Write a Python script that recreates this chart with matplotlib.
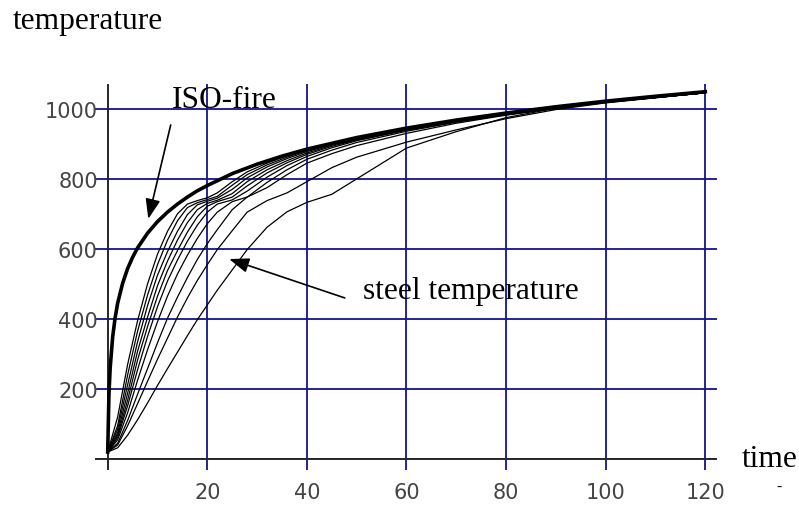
import matplotlib.pyplot as plt

# ISO-fire curve (gas temperature)
time_iso = [0, 0.25, 0.5, 1, 1.5, 2, 3, 4, 5, 6, 8, 10, 12, 14, 16, 18, 20,
            25, 30, 35, 40, 50, 60, 70, 80, 90, 100, 110, 120]
temp_iso = [20, 185, 261, 349, 404, 445, 502, 544, 576, 603, 645, 678, 705,
            728, 748, 766, 781, 815, 842, 865, 885, 918, 945, 968, 988, 1006,
            1022, 1036, 1049]

# steel temperatures, fastest to slowest
time_steel = [0, 2, 4, 6, 8, 10, 12, 14, 16, 18, 20, 22, 25, 28, 32, 36, 40,
              45, 50, 60, 70, 80, 90, 100, 120]
steel_1 = [20, 120, 270, 395, 500, 585, 650, 700, 728, 738, 746, 760, 792,
           820, 845, 866, 883, 900, 916, 943, 966, 986, 1004, 1020, 1047]
steel_2 = [20, 95, 240, 365, 468, 555, 625, 680, 718, 732, 741, 750, 782,
           812, 840, 862, 881, 899, 915, 942, 965, 985, 1003, 1019, 1046]
steel_3 = [20, 85, 212, 335, 438, 525, 592, 650, 698, 726, 736, 745, 770,
           803, 834, 858, 878, 898, 914, 941, 965, 985, 1003, 1019, 1046]
steel_4 = [20, 75, 188, 308, 405, 495, 565, 625, 675, 712, 730, 739, 758,
           792, 826, 852, 874, 896, 913, 941, 964, 985, 1003, 1019, 1046]
steel_5 = [20, 68, 168, 283, 378, 465, 538, 595, 648, 692, 722, 735, 748,
           780, 817, 846, 870, 893, 911, 940, 964, 984, 1003, 1019, 1046]
steel_6 = [20, 62, 152, 255, 350, 435, 508, 568, 622, 668, 705, 728, 740,
           765, 805, 838, 864, 889, 909, 939, 963, 984, 1002, 1019, 1046]
steel_7 = [20, 55, 132, 225, 312, 392, 465, 528, 582, 630, 672, 705, 735,
           748, 790, 826, 856, 882, 904, 936, 962, 983, 1002, 1019, 1046]
steel_8 = [20, 45, 110, 185, 258, 332, 402, 462, 518, 570, 615, 655, 712,
           748, 775, 812, 845, 872, 895, 930, 959, 982, 1001, 1018, 1046]
steel_9 = [20, 40, 95, 158, 222, 285, 345, 405, 460, 510, 555, 598, 652,
           705, 738, 760, 792, 832, 862, 905, 940, 972, 998, 1017, 1046]
steel_10 = [20, 32, 68, 112, 160, 210, 258, 305, 352, 398, 440, 482, 540,
            598, 662, 706, 733, 756, 800, 888, 935, 975, 1002, 1019, 1046]
steel_curves = [steel_1, steel_2, steel_3, steel_4, steel_5,
                steel_6, steel_7, steel_8, steel_9, steel_10]

x_ticks = [20, 40, 60, 80, 100, 120]
y_ticks = [200, 400, 600, 800, 1000]

serif = 'Liberation Serif'
grid_blue = '#14148c'

fig = plt.figure(figsize=(7.99, 5.06), dpi=100)
ax = fig.add_axes([95 / 799, 35 / 506, 622 / 799, 386 / 506])
ax.set_xlim(-2.55, 122.35)
ax.set_ylim(-31.4, 1071)
for sp in ax.spines.values():
    sp.set_visible(False)

for x in x_ticks:
    ax.axvline(x, color=grid_blue, lw=1.3, zorder=1)
for y in y_ticks:
    ax.axhline(y, color=grid_blue, lw=1.3, zorder=1)
ax.axvline(0, color='#262626', lw=1.4, zorder=2)
ax.axhline(0, color='#262626', lw=1.4, zorder=2)

for s in steel_curves:
    ax.plot(time_steel, s, color='black', lw=0.9, zorder=3)
ax.plot(time_iso, temp_iso, color='black', lw=2.6, zorder=4)

ax.set_xticks(x_ticks)
ax.set_yticks(y_ticks)
ax.tick_params(length=0, labelsize=15, labelcolor='#444444')
ax.tick_params(axis='y', pad=-2)
ax.tick_params(axis='x', pad=8.5)

arrow = dict(arrowstyle='-|>,head_length=0.8,head_width=0.3', color='black',
             lw=1.2, mutation_scale=15, shrinkA=0, shrinkB=0)
ax.annotate('', xy=(8.15, 686), xytext=(12.65, 954), arrowprops=arrow, zorder=5)
ax.annotate('', xy=(24.4, 571), xytext=(47.6, 460), arrowprops=arrow, zorder=5)

ax.text(12.9, 1006, 'ISO-fire', family=serif, fontsize=22.7, va='baseline')
ax.text(51.3, 460, 'steel temperature', family=serif, fontsize=22.7,
        va='baseline')
fig.text(13 / 799, 1 - 28.5 / 506, 'temperature', family=serif, fontsize=22.7,
         va='baseline')
fig.text(742 / 799, 1 - 467 / 506, 'time', family=serif, fontsize=22.7,
         va='baseline')
fig.text(779 / 799, 1 - 487 / 506, '-', family=serif, fontsize=11,
         ha='center', va='center')

fig.savefig('out.png', dpi=100)
